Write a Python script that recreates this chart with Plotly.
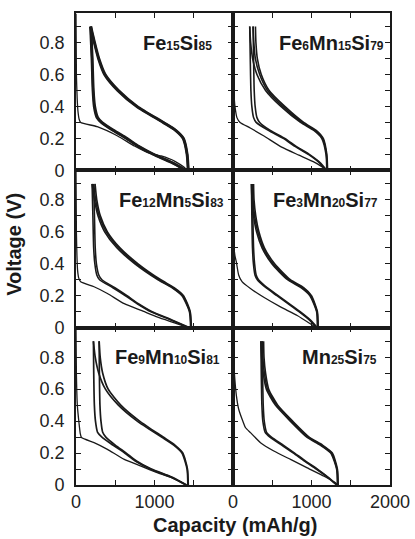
import plotly.graph_objects as go
from plotly.subplots import make_subplots

# ---------------- data ----------------
charge_volts = [0, 0.1, 0.2, 0.25, 0.3, 0.4, 0.5, 0.6, 0.7, 0.8, 0.9]
discharge_volts = [0.9, 0.7, 0.5, 0.4, 0.33, 0.3, 0.25, 0.2, 0.15, 0.1, 0.05, 0]

panel_names = ["Fe15Si85", "Fe6Mn15Si79", "Fe12Mn5Si83", "Fe3Mn20Si77", "Fe9Mn10Si81", "Mn25Si75"]
panel_labels = [
    [("Fe", "15"), ("Si", "85")],
    [("Fe", "6"), ("Mn", "15"), ("Si", "79")],
    [("Fe", "12"), ("Mn", "5"), ("Si", "83")],
    [("Fe", "3"), ("Mn", "20"), ("Si", "77")],
    [("Fe", "9"), ("Mn", "10"), ("Si", "81")],
    [("Mn", "25"), ("Si", "75")],
]
label_x = [1756, 1950, 1910, 1874, 1859, 1861]

# Fe15Si85
p1_first_cap = [0, 5, 15, 25, 40, 60, 270, 530, 745, 915, 1085, 1255, 1385, 1405]
p1_first_v = [0.98, 0.6, 0.45, 0.37, 0.32, 0.30, 0.273, 0.215, 0.152, 0.111, 0.09, 0.058, 0.017, 0]
p1_charge_caps = [
    [1432, 1418, 1370, 1275, 1115, 782, 542, 372, 292, 238, 190],
    [1427, 1413, 1363, 1267, 1106, 771, 531, 363, 285, 232, 184],
]
p1_discharge_caps = [
    [184, 202, 215, 231, 267, 322, 470, 640, 792, 982, 1212, 1396],
    [190, 208, 222, 240, 278, 333, 483, 652, 803, 993, 1221, 1403],
]

# Fe6Mn15Si79
p2_first_cap = [0, 5, 12, 25, 50, 90, 220, 400, 620, 840, 1040, 1170, 1190]
p2_first_v = [0.98, 0.55, 0.48, 0.40, 0.33, 0.30, 0.265, 0.213, 0.145, 0.095, 0.05, 0.01, 0]
p2_charge_caps = [
    [1205, 1195, 1150, 1060, 900, 660, 460, 360, 310, 292, 286],
    [1200, 1190, 1140, 1045, 880, 635, 440, 340, 285, 265, 256],
    [1195, 1185, 1130, 1030, 860, 610, 415, 305, 250, 225, 213],
]
p2_discharge_caps = [
    [213, 220, 228, 240, 262, 295, 450, 640, 790, 960, 1095, 1185],
    [256, 262, 270, 282, 305, 340, 475, 660, 805, 972, 1105, 1195],
]

# Fe12Mn5Si83
p3_first_cap = [0, 5, 12, 20, 35, 60, 230, 400, 615, 830, 1040, 1255, 1430]
p3_first_v = [0.98, 0.6, 0.45, 0.36, 0.31, 0.288, 0.256, 0.214, 0.15, 0.108, 0.066, 0.03, 0]
p3_charge_caps = [
    [1470, 1455, 1370, 1250, 1080, 790, 560, 400, 310, 265, 243],
    [1465, 1450, 1360, 1235, 1060, 770, 540, 385, 295, 250, 225],
    [1460, 1445, 1350, 1225, 1045, 750, 520, 365, 280, 235, 205],
]
p3_discharge_caps = [
    [205, 215, 225, 240, 265, 300, 470, 630, 780, 955, 1200, 1440],
    [225, 235, 245, 260, 290, 330, 495, 650, 795, 970, 1215, 1450],
]

# Fe3Mn20Si77
p4_first_cap = [0, 5, 9, 25, 43, 72, 115, 222, 392, 605, 818, 989, 1060]
p4_first_v = [0.98, 0.7, 0.52, 0.45, 0.41, 0.33, 0.288, 0.245, 0.19, 0.13, 0.076, 0.023, 0]
p4_charge_caps = [
    [1085, 1075, 1000, 900, 730, 530, 400, 330, 290, 268, 262],
    [1080, 1070, 990, 885, 710, 510, 385, 315, 275, 255, 248],
    [1075, 1065, 980, 870, 695, 495, 370, 300, 262, 242, 235],
]
p4_discharge_caps = [
    [235, 240, 248, 260, 280, 310, 420, 560, 700, 840, 968, 1065],
    [248, 253, 262, 275, 295, 325, 435, 575, 715, 855, 980, 1075],
]

# Fe9Mn10Si81
p5_first_cap = [0, 5, 17, 38, 55, 70, 230, 400, 615, 828, 1042, 1255, 1405]
p5_first_v = [0.98, 0.7, 0.5, 0.39, 0.32, 0.297, 0.265, 0.223, 0.16, 0.118, 0.076, 0.038, 0]
p5_charge_caps = [
    [1430, 1420, 1360, 1260, 1110, 810, 570, 410, 340, 308, 295],
    [1425, 1415, 1350, 1245, 1090, 780, 540, 375, 290, 245, 222],
]
p5_discharge_caps = [
    [295, 298, 305, 318, 340, 380, 500, 640, 770, 960, 1220, 1410],
    [222, 226, 234, 248, 275, 330, 470, 620, 755, 945, 1205, 1400],
]

# Mn25Si75
p6_first_cap = [0, 8, 17, 43, 72, 115, 158, 222, 350, 520, 733, 946, 1160, 1309, 1330]
p6_first_v = [0.98, 0.8, 0.707, 0.56, 0.476, 0.413, 0.36, 0.328, 0.265, 0.213, 0.16, 0.107, 0.055, 0.013, 0]
p6_charge_caps = [
    [1340, 1330, 1265, 1140, 970, 760, 570, 455, 415, 395, 390],
    [1335, 1325, 1255, 1125, 955, 745, 555, 440, 400, 380, 372],
    [1330, 1320, 1245, 1110, 940, 730, 540, 425, 385, 365, 355],
]
p6_discharge_caps = [
    [355, 360, 368, 380, 410, 470, 620, 770, 910, 1060, 1200, 1320],
    [372, 377, 385, 398, 428, 490, 640, 785, 925, 1075, 1210, 1328],
]

panels = [
    (p1_first_cap, p1_first_v, p1_charge_caps, p1_discharge_caps),
    (p2_first_cap, p2_first_v, p2_charge_caps, p2_discharge_caps),
    (p3_first_cap, p3_first_v, p3_charge_caps, p3_discharge_caps),
    (p4_first_cap, p4_first_v, p4_charge_caps, p4_discharge_caps),
    (p5_first_cap, p5_first_v, p5_charge_caps, p5_discharge_caps),
    (p6_first_cap, p6_first_v, p6_charge_caps, p6_discharge_caps),
]
cycle_widths = [2.6, 1.6, 1.6, 1.6, 1.7, 1.6]

x_tickvals = [0, 500, 1000, 1500, 2000]
x_ticktext_left = ["0", "", "1000", "", ""]
x_ticktext_right = ["0", "", "1000", "", "2000"]
y_tickvals = [0, 0.1, 0.2, 0.3, 0.4, 0.5, 0.6, 0.7, 0.8, 0.9]
y_ticktext = ["0", "", "0.2", "", "0.4", "", "0.6", "", "0.8", ""]

# ---------------- figure ----------------
INK = "#1a1a1a"
FONT = "Liberation Sans, Arial, sans-serif"

fig = make_subplots(rows=3, cols=2, horizontal_spacing=0, vertical_spacing=0)

for i, (fcap, fv, ccaps, dcaps) in enumerate(panels):
    r, c = i // 2 + 1, i % 2 + 1
    fig.add_trace(go.Scatter(x=fcap, y=fv, mode="lines",
                             line=dict(color=INK, width=1.3, shape="spline", smoothing=0.5),
                             showlegend=False, hoverinfo="skip"), row=r, col=c)
    for cc in ccaps:
        fig.add_trace(go.Scatter(x=cc, y=charge_volts, mode="lines",
                                 line=dict(color=INK, width=cycle_widths[i], shape="spline", smoothing=0.6),
                                 showlegend=False, hoverinfo="skip"), row=r, col=c)
    for dc in dcaps:
        fig.add_trace(go.Scatter(x=dc, y=discharge_volts, mode="lines",
                                 line=dict(color=INK, width=cycle_widths[i], shape="spline", smoothing=0.6),
                                 showlegend=False, hoverinfo="skip"), row=r, col=c)

    xref = "x" if i == 0 else f"x{i+1}"
    yref = "y" if i == 0 else f"y{i+1}"
    txt = "".join(f"{el}<span style='font-size:12px'>{n}</span>" for el, n in panel_labels[i])
    fig.add_annotation(x=label_x[i], y=0.80, xref=xref, yref=yref, text=txt,
                       showarrow=False, xanchor="right", yanchor="middle",
                       font=dict(family=FONT, size=20, color=INK, weight="bold"))

for r in (1, 2, 3):
    for c in (1, 2):
        fig.update_xaxes(row=r, col=c, range=[0, 2000], tickvals=x_tickvals,
                         ticktext=x_ticktext_left if c == 1 else x_ticktext_right,
                         showticklabels=(r == 3), ticks="inside", ticklen=5, tickwidth=1.3,
                         tickcolor=INK, showline=True, linewidth=1.6, linecolor=INK,
                         mirror="allticks", showgrid=False, zeroline=False,
                         tickfont=dict(family=FONT, size=18, color="#222"))
        fig.update_yaxes(row=r, col=c, range=[0, 0.985], tickvals=y_tickvals, ticktext=y_ticktext,
                         showticklabels=(c == 1), ticks="inside", ticklen=5, tickwidth=1.3,
                         tickcolor=INK, showline=True, linewidth=1.6, linecolor=INK,
                         mirror="allticks", showgrid=False, zeroline=False,
                         ticklabelstandoff=6,
                         tickfont=dict(family=FONT, size=18, color="#222"))

fig.add_annotation(text="Voltage (V)", xref="paper", yref="paper", x=-0.1975, y=0.511,
                   textangle=-90, showarrow=False, xanchor="center", yanchor="middle",
                   font=dict(family=FONT, size=20, color=INK, weight="bold"))
fig.add_annotation(text="Capacity (mAh/g)", xref="paper", yref="paper", x=0.506, y=-0.1127,
                   showarrow=False, xanchor="center", yanchor="bottom",
                   font=dict(family=FONT, size=20, color=INK, weight="bold"))

fig.update_layout(width=415, height=539,
                  margin=dict(l=76, r=25, t=13, b=54, autoexpand=False),
                  paper_bgcolor="white", plot_bgcolor="white", showlegend=False)

fig.write_html("out.html", config={"displayModeBar": False},
               post_script="document.body.style.margin='0';document.body.style.padding='0';")
